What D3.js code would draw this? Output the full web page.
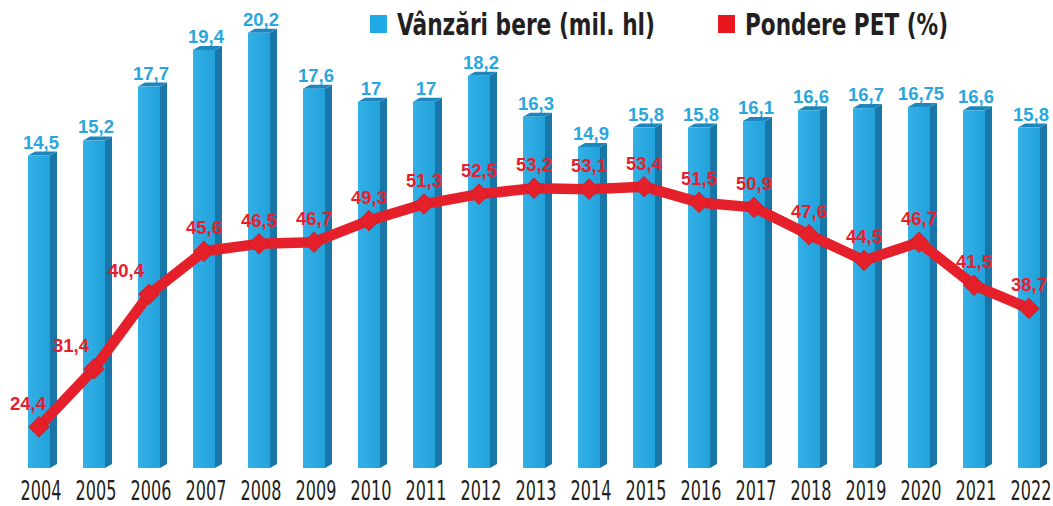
<!DOCTYPE html>
<html>
<head>
<meta charset="utf-8">
<script src="https://cdn.jsdelivr.net/npm/d3@7"></script>
<style>
  html, body { margin: 0; padding: 0; background: #fff; }
  svg { display: block; }
  .year { font-family: "DejaVu Sans Condensed", "DejaVu Sans", sans-serif; font-size: 27px; fill: #231f20; }
  .vlab { font-family: "Liberation Sans", Arial, sans-serif; font-weight: bold; font-size: 18.5px; }
  .leg { font-family: "DejaVu Sans Condensed", "DejaVu Sans", sans-serif; font-weight: bold; font-size: 31px; fill: #231f20; }
</style>
</head>
<body>
<div id="chart"></div>
<script>
var years = ["2004","2005","2006","2007","2008","2009","2010","2011","2012","2013",
             "2014","2015","2016","2017","2018","2019","2020","2021","2022"];
var vanzari = [14.5, 15.2, 17.7, 19.4, 20.2, 17.6, 17, 17, 18.2, 16.3,
               14.9, 15.8, 15.8, 16.1, 16.6, 16.7, 16.75, 16.6, 15.8];
var pondere = [24.4, 31.4, 40.4, 45.6, 46.5, 46.7, 49.3, 51.3, 52.5, 53.2,
               53.1, 53.4, 51.5, 50.9, 47.6, 44.5, 46.7, 41.5, 38.7];
var legendLabels = ["Vânzări bere (mil. hl)", "Pondere PET (%)"];

var width = 1053;
var height = 506;
var blueSide = "#1877a8";
var blueTop = "#1d87bd";
var red = "#e6202a";

var svg = d3.select("#chart").append("svg")
    .attr("width", width)
    .attr("height", height);

var defs = svg.append("defs");
var grad = defs.append("linearGradient").attr("id", "front").attr("x1", 0).attr("x2", 1);
grad.append("stop").attr("offset", "0%").attr("stop-color", "#33b0e6");
grad.append("stop").attr("offset", "100%").attr("stop-color", "#22a2da");

// scales
var xScale = d3.scaleBand()
    .domain(years)
    .range([11.5, 1056.5])
    .paddingInner(0.6)
    .paddingOuter(0.3);

var yScale = d3.scaleLinear()
    .domain([0, 20])
    .range([468, 37]);

var yPet = d3.scaleLinear()
    .domain([0, 60])
    .range([629, 132]);

var bw = xScale.bandwidth();
var depth = 7;
var rise = 4;

// 3d bars: side face, top face, front
var bars = svg.selectAll(".bar")
    .data(vanzari)
    .enter()
    .append("g")
    .attr("class", "bar");

bars.append("path")
    .attr("fill", blueSide)
    .attr("d", function(d, i) {
        var x = xScale(years[i]) + bw, y = yScale(d), b = yScale(0);
        return "M" + x + "," + y + "L" + (x + depth) + "," + (y - rise) +
               "L" + (x + depth) + "," + (b - rise) + "L" + x + "," + b + "Z";
    });

bars.append("path")
    .attr("fill", blueTop)
    .attr("d", function(d, i) {
        var x = xScale(years[i]), y = yScale(d);
        return "M" + x + "," + y + "L" + (x + depth) + "," + (y - rise) +
               "L" + (x + bw + depth) + "," + (y - rise) + "L" + (x + bw) + "," + y + "Z";
    });

bars.append("rect")
    .attr("x", function(d, i) { return xScale(years[i]); })
    .attr("y", function(d) { return yScale(d); })
    .attr("width", bw)
    .attr("height", function(d) { return yScale(0) - yScale(d); })
    .attr("fill", "url(#front)");

// bar values
svg.selectAll(".vlab-blue")
    .data(vanzari)
    .enter()
    .append("text")
    .attr("class", "vlab")
    .attr("fill", "#2aa6de")
    .attr("text-anchor", "middle")
    .attr("x", function(d, i) { return xScale(years[i]) + bw / 2 + 2; })
    .attr("y", function(d) { return yScale(d) - 7; })
    .text(function(d) { return String(d).replace(".", ","); });

// x axis
var xAxis = d3.axisBottom(xScale).tickSize(0).tickPadding(0);
var gx = svg.append("g")
    .attr("transform", "translate(2,500)")
    .call(xAxis);
gx.select(".domain").remove();
gx.attr("font-size", null).attr("font-family", null);
gx.selectAll(".tick text")
    .attr("class", "year")
    .attr("x", 0)
    .attr("y", 0)
    .attr("dy", 0)
    .attr("transform", "scale(0.66,1)");

// PET line
var cx = function(i) { return xScale(years[i]) + bw / 2; };
var line = d3.line()
    .x(function(d, i) { return cx(i); })
    .y(function(d) { return yPet(d); });

svg.append("path")
    .datum(pondere)
    .attr("fill", "none")
    .attr("stroke", red)
    .attr("stroke-width", 10.5)
    .attr("stroke-linejoin", "round")
    .attr("d", line);

svg.selectAll(".marker")
    .data(pondere)
    .enter()
    .append("path")
    .attr("class", "marker")
    .attr("d", d3.symbol().type(d3.symbolDiamond2).size(270))
    .attr("transform", function(d, i) { return "translate(" + cx(i) + "," + yPet(d) + ")"; })
    .attr("fill", red)
    .attr("stroke", "#c51a22")
    .attr("stroke-width", 0.8);

// PET labels, pushed left where the line climbs steeply
svg.selectAll(".vlab-red")
    .data(pondere)
    .enter()
    .append("text")
    .attr("class", "vlab")
    .attr("fill", red)
    .attr("text-anchor", "middle")
    .attr("x", function(d, i) {
        var shift = 0;
        if (i === 0) shift = -11;
        else if (i < pondere.length - 1 && pondere[i + 1] - d > 3) shift = -23;
        return cx(i) + shift;
    })
    .attr("y", function(d) { return yPet(d) - 17; })
    .text(function(d) { return String(d).replace(".", ","); });

// legend
var legend = svg.append("g");
var legX = [370, 718];
var legW = [258, 203];
legendLabels.forEach(function(t, i) {
    legend.append("rect")
        .attr("x", legX[i])
        .attr("y", 15)
        .attr("width", 17)
        .attr("height", 18)
        .attr("fill", i === 0 ? "#1fa9e6" : "#e8161f");
    legend.append("text")
        .attr("class", "leg")
        .attr("x", legX[i] + 27)
        .attr("y", 35)
        .attr("textLength", legW[i])
        .attr("lengthAdjust", "spacingAndGlyphs")
        .text(t);
});
</script>
</body>
</html>
